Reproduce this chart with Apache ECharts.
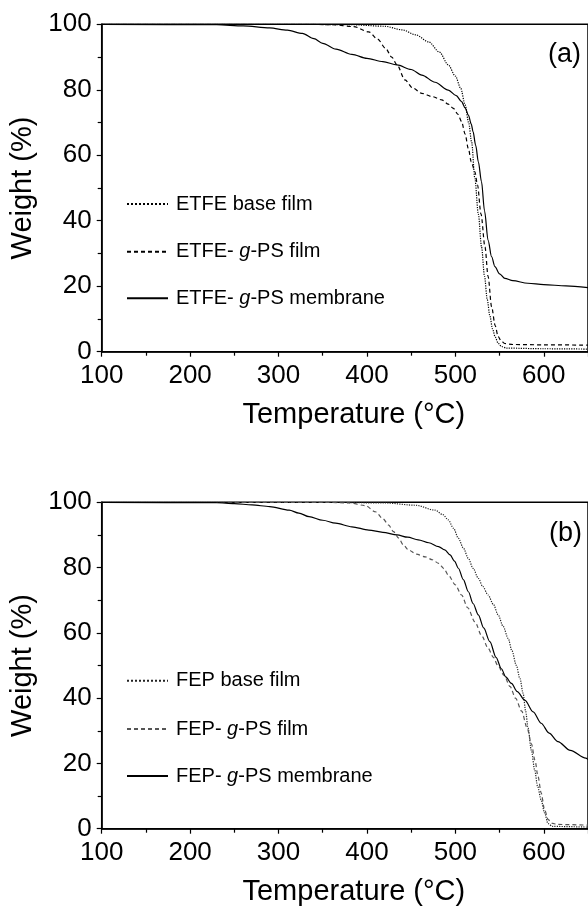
<!DOCTYPE html>
<html>
<head>
<meta charset="utf-8">
<script src="https://cdn.jsdelivr.net/npm/echarts@6/dist/echarts.min.js"></script>
<style>html,body{margin:0;padding:0;background:#fff}#c{width:588px;height:912px}</style>
</head>
<body>
<div id="c"></div>
<script>
// Panel (a) ETFE
var etfeBase = [[100,100],[300,100],[380,99.9],[420,99.4],[440,98.3],[455,96.8],[470,94.6],[482,91.5],[492,87.6],[500,84.2],[506,80.5],[511,75.4],[515,70],[518.4,64],[522,53],[526,42],[529.6,32],[533,23],[536,16],[539,11],[542,7],[545,4.5],[548.4,2.6],[552,1.6],[558,1.1],[600,0.9],[650,0.8]];
var etfeFilm = [[100,100],[330,100],[360,99.9],[385,99.3],[402,97.7],[412,95.5],[421,92.7],[428,90],[434,87.6],[443,83],[452,80.5],[462,78.9],[474,77.9],[484.6,76.9],[492,75.6],[497.8,74.3],[503,72.5],[507,70.3],[511,66.5],[514.7,62],[518,58],[522,55],[525,51],[529,42],[533.5,32],[537,23],[541,13.7],[545,8],[548.4,4.6],[552,3.2],[556,2.5],[565,2.2],[600,2.1],[650,2.0]];
var etfeMem = [[100,100],[230,99.9],[260,99.5],[290,98.9],[310,98.2],[327,97.2],[340,95.6],[350,94.2],[365,92.4],[383,90.8],[400,89.6],[418,88.6],[434,87.6],[450,86.2],[462,84.5],[477,82.3],[492,79.9],[501,78.2],[507,76.4],[511,74.5],[514.7,72.3],[518,69.5],[520,67.2],[523,63],[526,58],[529.5,52],[533,43],[537,34],[541,29],[544.7,26],[550,23.8],[556,22.4],[565,21.7],[582,20.9],[600,20.5],[625,20.1],[650,19.6]];
// Panel (b) FEP
var fepBase = [[100,100],[350,100],[420,99.8],[455,99.1],[477,97.6],[486,96.2],[492,94.6],[498,92],[503.4,89],[509,86],[514.7,82.8],[520,79.8],[526,76.7],[531,74.2],[537,71.6],[543,68.7],[548.4,65.5],[554,62],[559.7,58.3],[564,54.5],[569,50],[573,46],[576.6,41.5],[579.5,36],[582,31.2],[586,24],[589.7,18],[593,13],[597,8.8],[601,4.8],[604.7,1.6],[610,0.7],[650,0.5]];
var fepFilm = [[100,100],[350,100],[380,99.8],[398,99],[409.6,97.1],[418,95],[424.6,93],[430,91],[436,89],[441,87],[447,85.4],[456,84.1],[466,83.3],[474,82.4],[481,81.3],[487,79.7],[492,77.7],[500,74.7],[507,71.6],[514,67.7],[522,63.4],[530,59],[537,55.3],[543,52.5],[548,50],[555,47],[562,43.5],[568,40],[575,36],[581,31],[586,26],[590,21],[593.5,16],[597,11],[601,5.7],[605,2.8],[609,1.7],[615,1.3],[650,1.1]];
var fepMem = [[100,100],[230,99.9],[250,99.6],[270,99.2],[290,98.7],[312,97.6],[323,96.7],[334.5,95.6],[350,94.5],[364.6,93.6],[383,92.5],[402,91.5],[418,90.8],[434,90],[446,89.3],[458,88.5],[470,87.6],[481,86.4],[488,85.4],[494,83.9],[499,82],[503.4,79.8],[509,76.3],[514.7,72.6],[520,69],[526,65.5],[532,61.5],[539,57.3],[546,52.5],[552,49],[557,46.5],[563.4,44.5],[570,42],[578.5,39.4],[588,35.8],[597,32.3],[606,29.3],[616,26.7],[630,24],[647.5,21.6],[650,21.2]];

var xTitle = 'Temperature (°C)';
var yTitle = 'Weight (%)';
var namesA = ['ETFE base film','ETFE- g-PS film','ETFE- g-PS membrane'];
var namesB = ['FEP base film','FEP- g-PS film','FEP- g-PS membrane'];
var panelLabels = ['(a)','(b)'];

var FONT = 'Liberation Sans, Arial, sans-serif';
var chart = echarts.init(document.getElementById('c'));

function xAx(g){
  return {type:'value', gridIndex:g, min:100, max:650, interval:100,
    name:xTitle, nameLocation:'middle', nameGap:49,
    nameTextStyle:{fontFamily:FONT, fontSize:29, color:'#000', padding:[0,0,0,18]},
    axisLine:{show:true, onZero:false, lineStyle:{color:'#000', width:1.5}},
    axisTick:{show:true, inside:false, length:5, lineStyle:{color:'#000', width:1.2}},
    minorTick:{show:true, splitNumber:2, length:4, lineStyle:{color:'#000', width:1.2}},
    axisLabel:{fontFamily:FONT, fontSize:26, color:'#000', margin:11, showMaxLabel:false},
    splitLine:{show:false}};
}
function yAx(g){
  return {type:'value', gridIndex:g, min:0, max:100, interval:20,
    name:yTitle, nameLocation:'middle', nameGap:58,
    nameTextStyle:{fontFamily:FONT, fontSize:29, color:'#000'},
    axisLine:{show:true, onZero:false, lineStyle:{color:'#000', width:1.5}},
    axisTick:{show:true, inside:false, length:5, lineStyle:{color:'#000', width:1.2}},
    minorTick:{show:true, splitNumber:2, length:4, lineStyle:{color:'#000', width:1.2}},
    axisLabel:{fontFamily:FONT, fontSize:26, color:'#000', margin:10},
    splitLine:{show:false}};
}
function ser(name, data, g, type, color){
  return {name:name, type:'line', xAxisIndex:g, yAxisIndex:g, data:data, symbol:'none',
    smooth:0.3, smoothMonotone:'x', animation:false,
    lineStyle:{color:color, width:type==='solid'?1.2:1.2, type:type}, itemStyle:{color:color}};
}
function fmt(name){
  var i = name.indexOf(' g-');
  if (i < 0) return '{n|' + name + '}';
  return '{n|' + name.slice(0,i+1) + '}{i|g}{n|' + name.slice(i+2) + '}';
}
function leg(name, top){
  return {data:[name], left:126, top:top, padding:0, itemWidth:41, itemHeight:12,
    formatter:fmt,
    itemStyle:{color:'rgba(0,0,0,0)', borderColor:'rgba(0,0,0,0)', borderWidth:0, opacity:0},
    textStyle:{fontFamily:FONT, fontSize:20, color:'#000', padding:[0,0,0,3],
      rich:{n:{fontFamily:FONT, fontSize:20, color:'#000'}, i:{fontFamily:FONT, fontSize:20, color:'#000', fontStyle:'italic'}}}};
}

var option = {
  backgroundColor:'#fff',
  animation:false,
  grid:[
    {left:101.7, top:24.3, width:488.4, height:327.4, show:true, borderColor:'#000', borderWidth:1.5, backgroundColor:'transparent'},
    {left:101.7, top:502.3, width:488.4, height:326.4, show:true, borderColor:'#000', borderWidth:1.5, backgroundColor:'transparent'}
  ],
  xAxis:[xAx(0), xAx(1)],
  yAxis:[yAx(0), yAx(1)],
  legend:[
    leg(namesA[0], 194), leg(namesA[1], 241.7), leg(namesA[2], 288.3),
    leg(namesB[0], 670.7), leg(namesB[1], 719), leg(namesB[2], 766)
  ],
  graphic:[
    {type:'text', left:548, top:41, style:{text:panelLabels[0], font:'27px ' + FONT, fill:'#000'}},
    {type:'text', left:549, top:520, style:{text:panelLabels[1], font:'27px ' + FONT, fill:'#000'}}
  ],
  series:[
    ser(namesA[0], etfeBase, 0, 'dotted', '#000'),
    ser(namesA[1], etfeFilm, 0, [4,3], '#000'),
    ser(namesA[2], etfeMem, 0, 'solid', '#000'),
    ser(namesB[0], fepBase, 1, 'dotted', '#222'),
    ser(namesB[1], fepFilm, 1, [4,3], '#555'),
    ser(namesB[2], fepMem, 1, 'solid', '#000')
  ]
};
chart.setOption(option);
</script>
</body>
</html>
